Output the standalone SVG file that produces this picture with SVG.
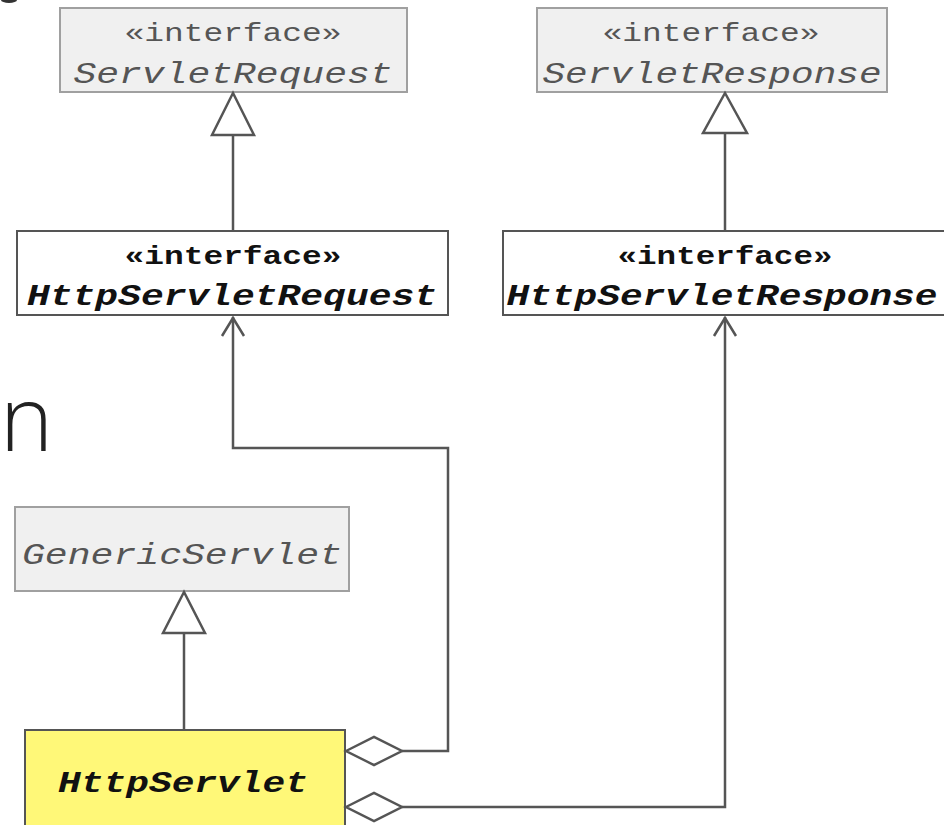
<svg xmlns="http://www.w3.org/2000/svg" width="944" height="825" viewBox="0 0 944 825">
  <style>
    .lib { fill: #f0f0f0; stroke: #a0a0a0; stroke-width: 2; }
    .own { fill: #ffffff; stroke: #555555; stroke-width: 2; }
    .main { fill: #fff878; stroke: #555555; stroke-width: 2; }
    .mono { font-family: "Liberation Mono", "Courier New", monospace; text-anchor: middle; }
    .stereo-lib { font-size: 26px; fill: #555555; }
    .name-lib { font-size: 30px; font-style: italic; fill: #555555; }
    .stereo { font-size: 26px; font-weight: bold; fill: #111111; }
    .name { font-size: 30px; font-style: italic; font-weight: bold; fill: #111111; }
    .edge { fill: none; stroke: #555555; stroke-width: 2.5; }
    .tri { fill: #ffffff; stroke: #555555; stroke-width: 2.5; stroke-linejoin: miter; }
    .side { font-family: "Open Sans", "Noto Sans", sans-serif; font-size: 90px; font-weight: 300; fill: #222222; }
  </style>

  <!-- cropped slide text at the margins -->
  <text class="side" x="0" y="451">n</text>
  <ellipse cx="9" cy="0" rx="8" ry="3" fill="#333333"/>

  <g id="ServletRequest">
    <rect class="lib" x="60" y="8" width="347" height="84"/>
    <text class="mono stereo-lib" x="233" y="41" textLength="217" lengthAdjust="spacingAndGlyphs">«interface»</text>
    <text class="mono name-lib" x="233" y="83" textLength="319" lengthAdjust="spacingAndGlyphs">ServletRequest</text>
  </g>

  <g id="ServletResponse">
    <rect class="lib" x="537" y="8" width="350" height="84"/>
    <text class="mono stereo-lib" x="711" y="41" textLength="217" lengthAdjust="spacingAndGlyphs">«interface»</text>
    <text class="mono name-lib" x="712" y="83" textLength="339" lengthAdjust="spacingAndGlyphs">ServletResponse</text>
  </g>

  <g id="HttpServletRequest">
    <rect class="own" x="17" y="231" width="431" height="84"/>
    <text class="mono stereo" x="233" y="264" textLength="217" lengthAdjust="spacingAndGlyphs">«interface»</text>
    <text class="mono name" x="232" y="305" textLength="410" lengthAdjust="spacingAndGlyphs">HttpServletRequest</text>
  </g>

  <g id="HttpServletResponse">
    <rect class="own" x="503" y="231" width="450" height="84"/>
    <text class="mono stereo" x="725" y="264" textLength="215" lengthAdjust="spacingAndGlyphs">«interface»</text>
    <text class="mono name" x="722" y="305" textLength="431" lengthAdjust="spacingAndGlyphs">HttpServletResponse</text>
  </g>

  <g id="GenericServlet">
    <rect class="lib" x="15" y="507" width="334" height="84"/>
    <text class="mono name-lib" x="182" y="564" textLength="320" lengthAdjust="spacingAndGlyphs">GenericServlet</text>
  </g>

  <g id="HttpServlet">
    <rect class="main" x="25" y="730" width="320" height="110"/>
    <text class="mono name" x="183" y="792" textLength="250" lengthAdjust="spacingAndGlyphs">HttpServlet</text>
  </g>

  <g id="connectors">
    <!-- generalization: HttpServletRequest -> ServletRequest -->
    <line class="edge" x1="233" y1="135" x2="233" y2="231"/>
    <polygon class="tri" points="233,93 212,135 254,135"/>
    <!-- generalization: HttpServletResponse -> ServletResponse -->
    <line class="edge" x1="725" y1="133" x2="725" y2="231"/>
    <polygon class="tri" points="725,93 703,133 747,133"/>
    <!-- generalization: HttpServlet -> GenericServlet -->
    <line class="edge" x1="184" y1="633" x2="184" y2="730"/>
    <polygon class="tri" points="184,592 163,633 205,633"/>

    <!-- aggregation: HttpServlet uses HttpServletRequest -->
    <polyline class="edge" points="402,751 448,751 448,448 233,448 233,317"/>
    <polyline class="edge" points="222,336 233,318 244,336"/>
    <polygon class="tri" points="346,751 374,737 402,751 374,765"/>

    <!-- aggregation: HttpServlet uses HttpServletResponse -->
    <polyline class="edge" points="402,807 725,807 725,317"/>
    <polyline class="edge" points="714,336 725,318 736,336"/>
    <polygon class="tri" points="346,807 374,793 402,807 374,821"/>
  </g>
</svg>
